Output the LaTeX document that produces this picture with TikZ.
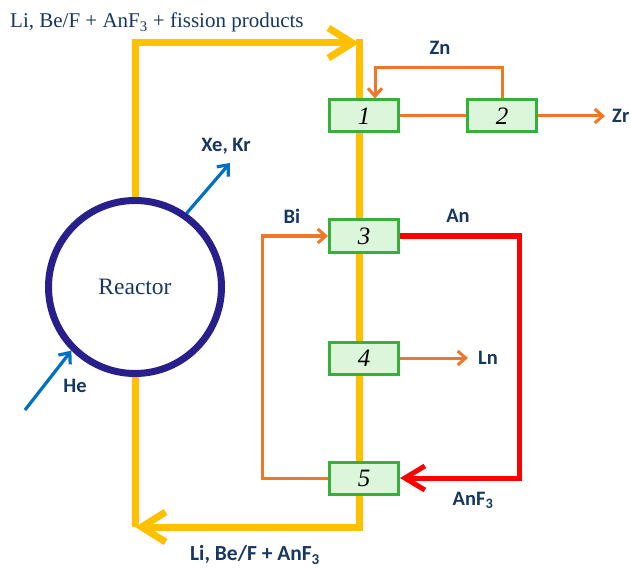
\documentclass[tikz,border=0pt]{standalone}
\usepackage{fontspec}
\setmainfont{Liberation Serif}
\newfontfamily\lblfont{Carlito}
\usetikzlibrary{arrows.meta}

\definecolor{txt}{RGB}{23,55,94}
\definecolor{salt}{RGB}{255,192,0}
\definecolor{flow}{RGB}{240,118,40}
\definecolor{gas}{RGB}{0,112,192}
\definecolor{core}{RGB}{40,30,140}
\definecolor{boxline}{RGB}{55,175,60}
\definecolor{boxfill}{RGB}{220,246,220}

\tikzset{
  unit/.style={draw=boxline, fill=boxfill, line width=3pt, minimum width=69pt,
    minimum height=32pt, inner sep=0pt, font=\fontsize{25}{25}\selectfont\itshape},
  lbl/.style={text=txt, inner sep=0pt, font=\lblfont\fontsize{20.5}{22}\selectfont\bfseries},
  saltline/.style={draw=salt, line width=7pt},
  oline/.style={draw=flow, line width=3pt, -{Straight Barb[length=8pt,width=14pt]}},
  gline/.style={draw=gas, line width=3.2pt, -{Straight Barb[length=9pt,width=15pt]}}
}

\begin{document}
\begin{tikzpicture}[x=1pt, y=-1pt]
\useasboundingbox (0,0) rectangle (631,569);

\node[circle, draw=core, line width=7pt, minimum size=173pt, inner sep=0pt,
  font=\fontsize{23.5}{25}\selectfont, text=txt] (R) at (135,287) {Reactor};

% Salt loop
\coordinate (tl) at (135,43);
\coordinate (tr) at (359,43);
\coordinate (br) at (359,527);
\coordinate (bl) at (135,527);

\draw[saltline] (R.north) -- (tl)
  -- (tr) [-{Straight Barb[length=24pt,width=30pt]}];
\draw[saltline, line cap=rect, -{Straight Barb[length=24pt,width=30pt]}] (tr) -- (br) -- (bl);
\draw[saltline] (bl) -- (R.south);

\node[anchor=base west, inner sep=0pt, text=txt, font=\fontsize{21}{23}\selectfont] (T) at (10,28)
  {Li, Be/F + AnF\textsubscript{3} + fission products};
\node[lbl, font=\lblfont\fontsize{21.5}{23}\selectfont\bfseries] (B) at (255,555)
  {Li, Be/F + AnF\textsubscript{3}};

% Units
\foreach \y [count=\i] in {116, 236, 358, 478}
  \node[unit] (U\i) at (364,\y) {\ifnum\i=1 1\else\the\numexpr\i+1\relax\fi};
\node[unit] (U5b) at (502,116) {2};

% Labels
\node[lbl] (Zn) at (440,48) {Zn};
\node[lbl, anchor=west] (Zr) at (612,116) {Zr};
\node[lbl] (Bi) at (292,216) {Bi};
\node[lbl] (An) at (458,216) {An};
\node[lbl, anchor=west] (Ln) at (478,358) {Ln};
\node[lbl] (AnF) at (473,500) {AnF\textsubscript{3}};
\node[lbl] (Xe) at (226,146) {Xe, Kr};
\node[lbl] (He) at (75,386) {He};

\coordinate (xe) at (230,163);
\coordinate (he) at (25,410);

% Flows
\draw[flow, line width=3pt] (U1.east) -- (U5b.west);
\draw[oline] (U5b.north) -- ++(0,-31) -| ([xshift=11pt]U1.north);
\draw[oline, shorten >=7pt] (U5b.east) -- (Zr.west);
\draw[oline] (U4.west) -- ++(-66,0) |- (U2.west);
\draw[oline, shorten >=10pt] (U3.east) -- (Ln.west);
\draw[draw=red, line width=5pt, -{Straight Barb[length=20pt,width=24pt]}]
  (U2.east) -- ++(119,0) |- (U4.east);

\draw[gline] (R.55) -- (xe);
\draw[gline] (he) -- (R.225);
\end{tikzpicture}
\end{document}
